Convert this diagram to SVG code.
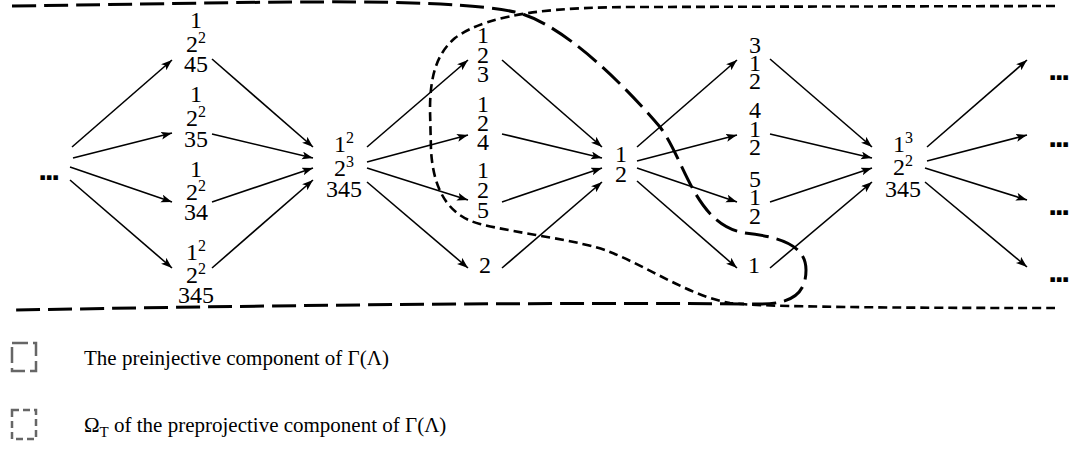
<svg xmlns="http://www.w3.org/2000/svg" width="1070" height="454" viewBox="0 0 1070 454">
<defs>
<style>
.n{font-family:"Liberation Serif",serif;font-size:24px;text-anchor:middle;fill:#000}
.sup{font-size:16px}
.dots{font-family:"Liberation Sans",sans-serif;font-weight:bold;font-size:32px;letter-spacing:-2.4px;text-anchor:middle;fill:#000}
.lg{font-family:"Liberation Serif",serif;font-size:21px;fill:#000}
.sub{font-size:15px}
.arr line{stroke:#000;stroke-width:1.6;marker-end:url(#ah)}
.reg path{fill:none;stroke:#000}
.ldash{stroke-width:3;stroke-dasharray:24 8}
.sdash{stroke-width:2.6;stroke-dasharray:9 5}
.key{fill:none;stroke:#666;stroke-width:2.5}
</style>
<marker id="ah" markerWidth="12" markerHeight="10" refX="11" refY="4" orient="auto" markerUnits="userSpaceOnUse">
<path d="M0,0 L11,4 L0,8 L2.5,4 z" fill="#000"/>
</marker>
</defs>
<rect width="1070" height="454" fill="#fff"/>

<g id="regions" class="reg">
<path class="ldash" d="M12,6 C250,3 440,-4 515,12 C560,22 620,80 660,127 C685,160 695,225 745,233 C780,237 806,245 806,270 C806,295 790,304 760,304 C500,302 250,306 13,310"/>
<path class="sdash" d="M1055,6 L640,7 C560,7 490,12 455,38 C435,55 430,80 430,110 L431,150 C433,185 445,215 480,224 C520,234 580,240 610,252 C650,268 690,296 730,303 C760,307 900,308 1055,308"/>
</g>

<g id="connectors" class="arr">
<line x1="72" y1="147" x2="172" y2="60"/>
<line x1="73" y1="158" x2="172" y2="133"/>
<line x1="70" y1="167" x2="172" y2="202"/>
<line x1="70" y1="180" x2="172" y2="268"/>
<line x1="212" y1="59" x2="313" y2="147"/>
<line x1="212" y1="134" x2="313" y2="158"/>
<line x1="212" y1="202" x2="313" y2="168"/>
<line x1="212" y1="268" x2="313" y2="180"/>
<line x1="367" y1="147" x2="468" y2="60"/>
<line x1="367" y1="162" x2="468" y2="135"/>
<line x1="367" y1="168" x2="468" y2="200"/>
<line x1="367" y1="182" x2="468" y2="268"/>
<line x1="502" y1="60" x2="602" y2="147"/>
<line x1="502" y1="134" x2="602" y2="158"/>
<line x1="502" y1="202" x2="602" y2="168"/>
<line x1="502" y1="268" x2="602" y2="182"/>
<line x1="637" y1="147" x2="737" y2="60"/>
<line x1="637" y1="161" x2="737" y2="135"/>
<line x1="637" y1="168" x2="737" y2="202"/>
<line x1="637" y1="181" x2="737" y2="268"/>
<line x1="770" y1="59" x2="872" y2="147"/>
<line x1="770" y1="134" x2="872" y2="158"/>
<line x1="770" y1="202" x2="872" y2="168"/>
<line x1="770" y1="268" x2="872" y2="182"/>
<line x1="927" y1="147" x2="1027" y2="60"/>
<line x1="927" y1="161" x2="1027" y2="135"/>
<line x1="925" y1="168" x2="1027" y2="200"/>
<line x1="925" y1="182" x2="1027" y2="267"/>
</g>

<g id="left-dots"><text class="dots" x="48" y="180">...</text></g>

<g id="A1"><text class="n" x="196" y="28">1<tspan x="196" y="52">2</tspan><tspan class="sup" dy="-9">2</tspan><tspan x="196" y="72">45</tspan></text></g>
<g id="A2"><text class="n" x="196" y="102">1<tspan x="196" y="126">2</tspan><tspan class="sup" dy="-9">2</tspan><tspan x="196" y="147">35</tspan></text></g>
<g id="A3"><text class="n" x="196" y="177">1<tspan x="196" y="200">2</tspan><tspan class="sup" dy="-9">2</tspan><tspan x="196" y="220">34</tspan></text></g>
<g id="A4"><text class="n" x="196" y="260">1<tspan class="sup" dy="-9">2</tspan><tspan x="196" y="283">2</tspan><tspan class="sup" dy="-9">2</tspan><tspan x="196" y="303">345</tspan></text></g>

<g id="X"><text class="n" x="344" y="152">1<tspan class="sup" dy="-9">2</tspan><tspan x="344" y="176">2</tspan><tspan class="sup" dy="-9">3</tspan><tspan x="344" y="197">345</tspan></text></g>

<g id="B1"><text class="n" x="483" y="43">1<tspan x="483" y="63">2</tspan><tspan x="483" y="82">3</tspan></text></g>
<g id="B2"><text class="n" x="483" y="112">1<tspan x="483" y="131">2</tspan><tspan x="483" y="150">4</tspan></text></g>
<g id="B3"><text class="n" x="483" y="178">1<tspan x="483" y="198">2</tspan><tspan x="483" y="218">5</tspan></text></g>
<g id="B4"><text class="n" x="485" y="273">2</text></g>

<g id="C"><text class="n" x="621" y="162">1<tspan x="621" y="182">2</tspan></text></g>

<g id="D1"><text class="n" x="755" y="53">3<tspan x="755" y="71">1</tspan><tspan x="755" y="89">2</tspan></text></g>
<g id="D2"><text class="n" x="755" y="118">4<tspan x="755" y="137">1</tspan><tspan x="755" y="155">2</tspan></text></g>
<g id="D3"><text class="n" x="755" y="187">5<tspan x="755" y="205">1</tspan><tspan x="755" y="224">2</tspan></text></g>
<g id="D4"><text class="n" x="754" y="273">1</text></g>

<g id="E"><text class="n" x="903" y="152">1<tspan class="sup" dy="-9">3</tspan><tspan x="903" y="175">2</tspan><tspan class="sup" dy="-9">2</tspan><tspan x="903" y="197">345</tspan></text></g>

<g id="right-dots">
<text class="dots" x="1058" y="80">...</text>
<text class="dots" x="1058" y="147">...</text>
<text class="dots" x="1058" y="215">...</text>
<text class="dots" x="1058" y="282">...</text>
</g>

<g id="legend">
<rect class="key" x="12" y="343" width="24" height="28" stroke-dasharray="16 5"/>
<text class="lg" x="84" y="365">The preinjective component of Γ(Λ)</text>
<rect class="key" x="12" y="410" width="24" height="29" stroke-dasharray="7 4"/>
<text class="lg" x="84" y="432">Ω<tspan class="sub" dy="5">T</tspan><tspan dy="-5"> of the preprojective component of Γ(Λ)</tspan></text>
</g>
</svg>
